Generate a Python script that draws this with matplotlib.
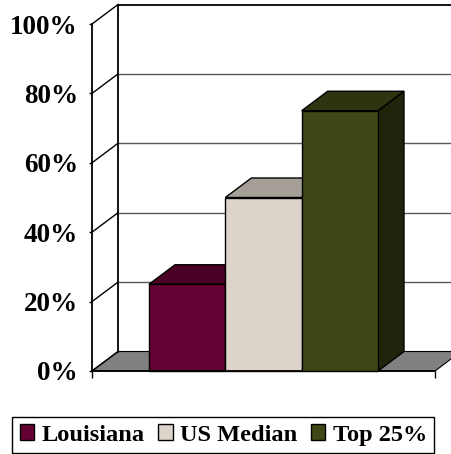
import matplotlib
matplotlib.use("Agg")
import matplotlib.pyplot as plt
from matplotlib.patches import Polygon, Patch

# ---- data ----
series = ["Louisiana", "US Median", "Top 25%"]
values = [25, 50, 75]
yticks = [0, 20, 40, 60, 80, 100]
ytick_labels = ["0%", "20%", "40%", "60%", "80%", "100%"]

# ---- style ----
front_colors = ["#650033", "#dcd4ca", "#404615"]
top_colors = ["#4b0026", "#a69f97", "#2f330f"]
side_colors = ["#3a001e", "#8a847e", "#20240a"]
FONT = "Liberation Serif"

W, H, DPI = 452, 454, 100
fig = plt.figure(figsize=(W / DPI, H / DPI), dpi=DPI)

# front plane of the 3-D box (pixels)
fx0, fx1, fy0, fy1 = 92, 435, 371, 24
ax = fig.add_axes([fx0 / W, (H - fy0) / H, (fx1 - fx0) / W, (fy0 - fy1) / H])
ax.set_facecolor("none")

n = len(values)
gap = 0.747
xmin, xmax = -0.5 - gap, n - 0.5 + gap
ax.set_xlim(xmin, xmax)
ax.set_ylim(0, 100)

# depth vector (pixels -> data units)
dpx, dpy = 26, 19.5
dx = dpx * (xmax - xmin) / (fx1 - fx0)
dy = dpy * 100 / (fy0 - fy1)

# back wall
ax.add_patch(Polygon([(xmin + dx, dy), (xmax + dx, dy), (xmax + dx, 100 + dy), (xmin + dx, 100 + dy)],
                     closed=True, facecolor="white", edgecolor="none", zorder=0.5, clip_on=False))
# floor
ax.add_patch(Polygon([(xmin, 0), (xmax, 0), (xmax + dx, dy), (xmin + dx, dy)],
                     closed=True, facecolor="#808080", edgecolor="black", lw=0.8, zorder=0.6, clip_on=False))
# gridlines on back wall + diagonals on side wall
for t in yticks:
    if 0 < t < 100:
        ax.plot([xmin + dx, xmax + dx], [t + dy, t + dy], color="#5a5a5a", lw=1.0, zorder=0.7, clip_on=False)
    ax.plot([xmin, xmin + dx], [t, t + dy], color="black", lw=1.0, zorder=0.8, clip_on=False)
ax.plot([xmin + dx, xmax + dx], [100 + dy, 100 + dy], color="black", lw=1.3, zorder=0.8, clip_on=False)
ax.plot([xmin + dx, xmin + dx], [dy, 100 + dy], color="black", lw=1.3, zorder=0.8, clip_on=False)

# bars
for i, v in enumerate(values):
    l, r = i - 0.5, i + 0.5
    z = 1 + i
    ax.add_patch(Polygon([(r, 0), (r + dx, dy), (r + dx, v + dy), (r, v)], closed=True,
                         facecolor=side_colors[i], edgecolor="black", lw=1.0, zorder=z, clip_on=False))
    ax.add_patch(Polygon([(l, v), (r, v), (r + dx, v + dy), (l + dx, v + dy)], closed=True,
                         facecolor=top_colors[i], edgecolor="black", lw=1.0, zorder=z, clip_on=False))
    ax.add_patch(Polygon([(l, 0), (r, 0), (r, v), (l, v)], closed=True,
                         facecolor=front_colors[i], edgecolor="black", lw=1.0, zorder=z + 0.1, clip_on=False))

# axes
for s in ["top", "right"]:
    ax.spines[s].set_visible(False)
ax.spines["left"].set_linewidth(1.3)
ax.spines["bottom"].set_linewidth(1.3)
ax.set_yticks(yticks)
ax.set_yticklabels(ytick_labels, fontfamily=FONT, fontweight="bold", fontsize=19.5)
ax.set_xticks([xmin, xmax])
ax.set_xticklabels([])
ax.tick_params(axis="y", direction="out", length=2.2, width=1.0, pad=8)
ax.tick_params(axis="x", direction="out", length=5, width=1.0)

handles = [Patch(facecolor=c, edgecolor="black", lw=1.0) for c in front_colors]
leg = fig.legend(handles, series, loc="lower center", bbox_to_anchor=(0.494, 0.002), ncol=3,
                 frameon=True, fancybox=False, edgecolor="black", framealpha=1,
                 prop={"family": FONT, "weight": "bold", "size": 17.6},
                 handlelength=0.6, handleheight=0.6, handletextpad=0.3, columnspacing=0.55,
                 borderpad=0.3, borderaxespad=0)
leg.get_frame().set_linewidth(1.0)

fig.savefig("out.png", dpi=DPI)
